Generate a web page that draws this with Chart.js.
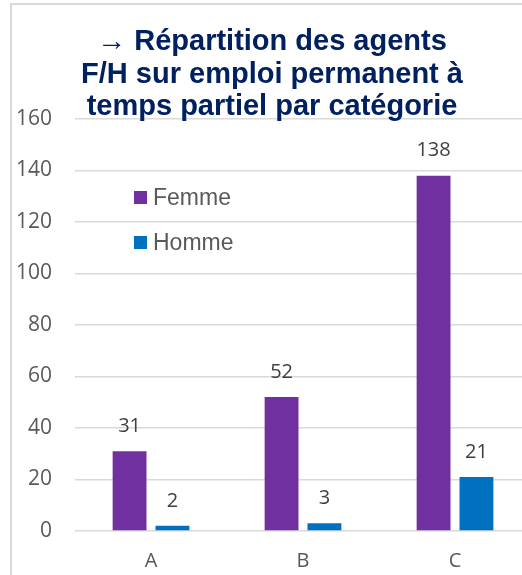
<!DOCTYPE html>
<html>
<head>
<meta charset="utf-8">
<script src="https://cdn.jsdelivr.net/npm/chart.js@4.4.0/dist/chart.umd.min.js"></script>
<style>
  html, body { margin: 0; padding: 0; background: #fff; overflow: hidden; }
  #frame { position: absolute; left: 10px; top: 3px; width: 700px; height: 800px; border: 2px solid #d9d9d9; }
  #c { position: absolute; left: 0; top: 0; }
  .leg { position: absolute; left: 134px; height: 26px; line-height: 26px; font: 23px "Liberation Sans", Arial, sans-serif; color: #595959; display: flex; align-items: center; }
  .leg span.box { width: 13px; height: 13px; margin-right: 6px; display: inline-block; }
</style>
</head>
<body>
<div id="frame"></div>
<canvas id="c" width="540" height="575"></canvas>
<div id="legend"></div>
<script>
const categories = ['A', 'B', 'C']
const femme = [31, 52, 138]
const homme = [2, 3, 21]
const yTicks = [0, 20, 40, 60, 80, 100, 120, 140, 160]
const titleLines = ['\u2192 Répartition des agents', 'F/H sur emploi permanent à', 'temps partiel par catégorie']

const purple = '#7030A0'
const blue = '#0070C0'

// value labels above each bar
const barValues = {
  id: 'barValues',
  afterDatasetsDraw(chart) {
    const c = chart.ctx
    c.save()
    c.font = '20px "Open Sans", sans-serif'
    c.fillStyle = '#404040'
    c.textAlign = 'center'
    c.textBaseline = 'middle'
    chart.data.datasets.forEach((ds, i) => {
      chart.getDatasetMeta(i).data.forEach((bar, j) => {
        c.fillText(ds.data[j], bar.x, bar.y - 25)
      })
    })
    c.restore()
  }
}

const chart = new Chart(document.getElementById('c'), {
  type: 'bar',
  data: {
    labels: categories,
    datasets: [
      { label: 'Femme', data: femme, backgroundColor: purple },
      { label: 'Homme', data: homme, backgroundColor: blue }
    ]
  },
  options: {
    responsive: false,
    animation: false,
    devicePixelRatio: 1,
    categoryPercentage: 0.564,
    barPercentage: 0.79,
    layout: { padding: { left: 13, right: 9, top: 0, bottom: 0 } },
    plugins: {
      legend: { display: false },
      tooltip: { enabled: false },
      title: {
        display: true,
        text: titleLines,
        color: '#002060',
        font: { family: '"Liberation Sans", Arial, sans-serif', size: 29, weight: 'bold', lineHeight: '32.5px' },
        padding: { top: 26, bottom: -4.5 }
      }
    },
    scales: {
      x: {
        grid: { display: false },
        border: { display: false },
        ticks: { color: '#595959', font: { family: '"Open Sans", sans-serif', size: 20 }, padding: 10 },
        afterFit(scale) { scale.height = 44 }
      },
      y: {
        min: 0,
        max: 160,
        afterBuildTicks(scale) { scale.ticks = yTicks.map(v => ({ value: v })) },
        grid: { color: '#d9d9d9', lineWidth: 1.5, drawTicks: false },
        border: { display: false },
        ticks: { color: '#595959', font: { family: '"Open Sans", sans-serif', size: 21 }, padding: 23 },
        afterFit(scale) { scale.width = 62 }
      }
    }
  },
  plugins: [barValues]
})

// legend placed inside the plot area, like the original
const legendTops = [184, 229]
chart.data.datasets.forEach((ds, i) => {
  const item = document.createElement('div')
  item.className = 'leg'
  item.style.top = legendTops[i] + 'px'
  const box = document.createElement('span')
  box.className = 'box'
  box.style.background = ds.backgroundColor
  item.appendChild(box)
  item.appendChild(document.createTextNode(ds.label))
  document.getElementById('legend').appendChild(item)
})
</script>
</body>
</html>
